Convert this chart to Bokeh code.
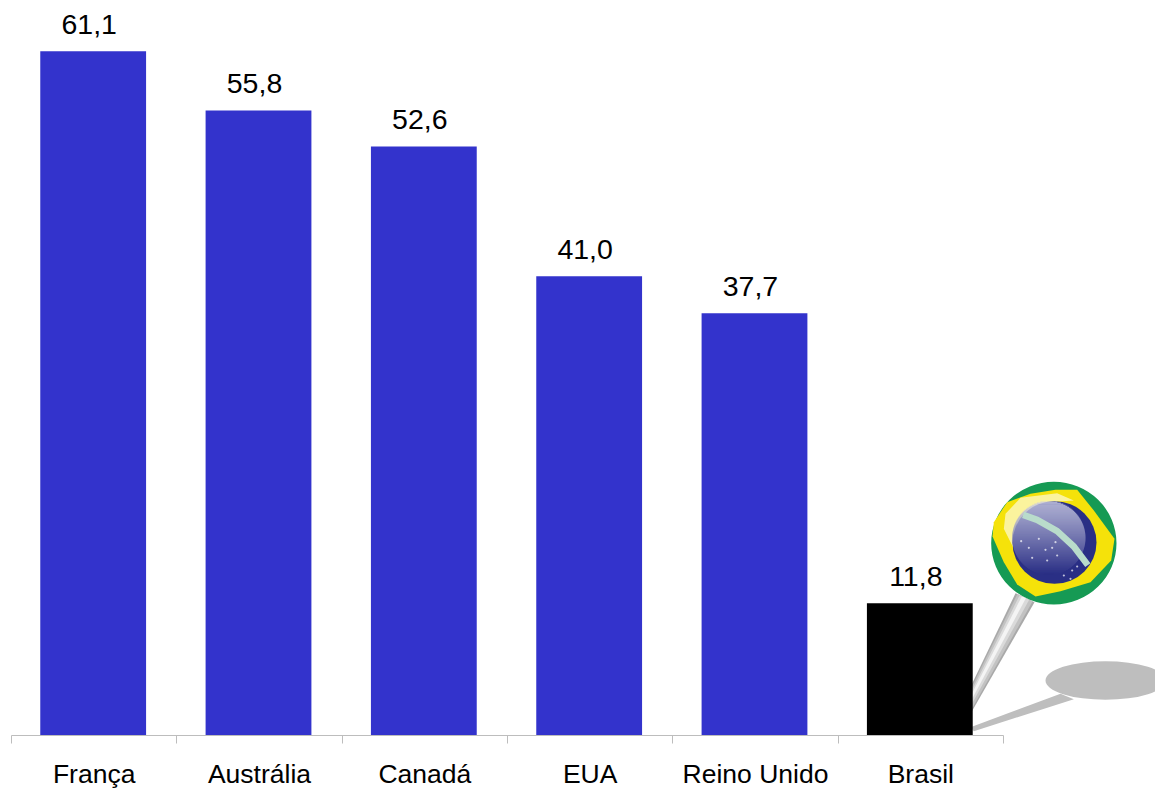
from bokeh.plotting import figure
from bokeh.models import FixedTicker, LinearAxis, Range1d, ColumnDataSource
from bokeh.core.properties import value
from bokeh.embed import file_html
from bokeh.resources import INLINE
from bokeh.transform import dodge

# ---- chart data
categories = ["França", "Austrália", "Canadá", "EUA", "Reino Unido", "Brasil"]
values = [61.1, 55.8, 52.6, 41.0, 37.7, 11.8]
labels = ["61,1", "55,8", "52,6", "41,0", "37,7", "11,8"]
colors = ["#3333CC"] * 5 + ["#000000"]

FONT = "Liberation Sans"
PX_LEFT, PX_BASE, SLOT, UNIT = 11.0, 735.0, 165.33, 11.2   # page px calibration

centers = [i + 0.5 for i in range(len(categories))]
bounds = list(range(len(categories) + 1))

p = figure(
    frame_width=1155 - 11, frame_height=735, output_backend="svg", toolbar_location=None,
    x_range=Range1d(0, (1155 - PX_LEFT) / SLOT),
    y_range=Range1d(0, PX_BASE / UNIT),
    min_border_left=11, min_border_right=0, min_border_top=0, min_border_bottom=0,
    outline_line_color=None, background_fill_color="white", border_fill_color="white",
)
p.grid.visible = False
p.yaxis.visible = False
p.xaxis.visible = False

axis = LinearAxis(
    ticker=FixedTicker(ticks=centers, minor_ticks=bounds),
    bounds=(0, 6),
    major_label_overrides={c: n for c, n in zip(centers, categories)},
    axis_line_color="#BDBDBD", axis_line_width=1,
    major_tick_line_color=None, major_tick_in=0, major_tick_out=0,
    minor_tick_line_color="#BDBDBD", minor_tick_in=0, minor_tick_out=8,
    major_label_standoff=15,
    major_label_text_font=FONT, major_label_text_font_size="26.5px",
    major_label_text_color="black",
)
p.add_layout(axis, "below")


# ---- decorative Brazilian-flag pin: coordinates are pixels of the crop
def X(z):
    return (860 + z / 3 - PX_LEFT) / SLOT


def Y(z):
    return (PX_BASE - (460 + z / 3)) / UNIT


def poly(pts, color, alpha=1.0):
    p.patch([X(a) for a, _ in pts], [Y(b) for _, b in pts],
            fill_color=color, fill_alpha=alpha, line_color=None)


def ell(cx, cy, rx, ry, color, alpha=1.0):
    p.ellipse([X(cx)], [Y(cy)], width=2 * rx / 3 / SLOT, height=2 * ry / 3 / UNIT,
              fill_color=color, fill_alpha=alpha, line_color=None)


# shadow
ell(735, 660, 180, 58, "#BEBEBE")
poly([(600, 700), (640, 716), (340, 812), (330, 800)], "#BEBEBE")

# shaft
TL, TR, BL, BR = (465, 398), (522, 425), (325, 690), (330, 760)
for f0, f1, c in [(0, 1, "#A9A9A9"), (.1, .9, "#C2C2C2"), (.22, .72, "#DADADA"), (.34, .55, "#F4F4F4")]:
    lerp = lambda a, b, f: (a[0] + (b[0] - a[0]) * f, a[1] + (b[1] - a[1]) * f)
    poly([lerp(TL, TR, f0), lerp(TL, TR, f1), lerp(BL, BR, f1), lerp(BL, BR, f0)], c)

# flag disc
ell(580, 248, 188, 184, "#169A54")
poly([(585, 88), (650, 88), (700, 150), (762, 235), (752, 300), (690, 365), (600, 392),
      (525, 408), (470, 372), (430, 305), (396, 228), (400, 185), (440, 125), (510, 100)], "#F5E20A")
poly([(590, 98), (480, 112), (435, 160), (430, 205), (460, 265), (480, 180), (560, 125), (640, 120)], "#FFFFFF", 0.6)

# globe
ell(582, 246, 126, 124, "#2A2F85")
cx, cy, r = 565, 232, 110
for row in range(0, 221, 3):
    dy = row - r
    half = (r * r - dy * dy) ** 0.5
    t = row / 220
    c0, c1 = (205, 206, 228), (42, 47, 133)
    col = "#%02x%02x%02x" % tuple(int(a + (b - a) * t ** 1.15) for a, b in zip(c0, c1))
    p.quad(left=[X(cx - half)], right=[X(cx + half)], top=[Y(cy + dy - 1.6)], bottom=[Y(cy + dy + 1.6)],
           fill_color=col, line_color=None)

# band and stars
p.line([X(a) for a in (488, 530, 590, 640, 682)], [Y(b) for b in (163, 178, 212, 258, 314)],
       line_color="#B9DCCB", line_width=6.5)
p.scatter([X(a) for a in (482, 505, 535, 555, 575, 590, 515, 560, 610, 635, 650, 585, 630)],
          [Y(b) for b in (242, 262, 235, 268, 262, 285, 292, 300, 345, 330, 318, 245, 355)],
          size=2.2, color="white", alpha=0.7, line_color=None)

# ---- bars and value labels
src = ColumnDataSource(dict(x=centers, v=values, c=colors, t=labels))
p.vbar(x=dodge("x", -0.006), top="v", bottom=0, width=0.64, fill_color="c", line_color=None, source=src)
p.text(x="x", y="v", text="t", source=src, text_align="center", text_baseline="alphabetic",
       x_offset=-5, y_offset=-27, text_font=value(FONT), text_font_size="28.5px", text_color="black")

open("out.html", "w").write(file_html(p, INLINE))
